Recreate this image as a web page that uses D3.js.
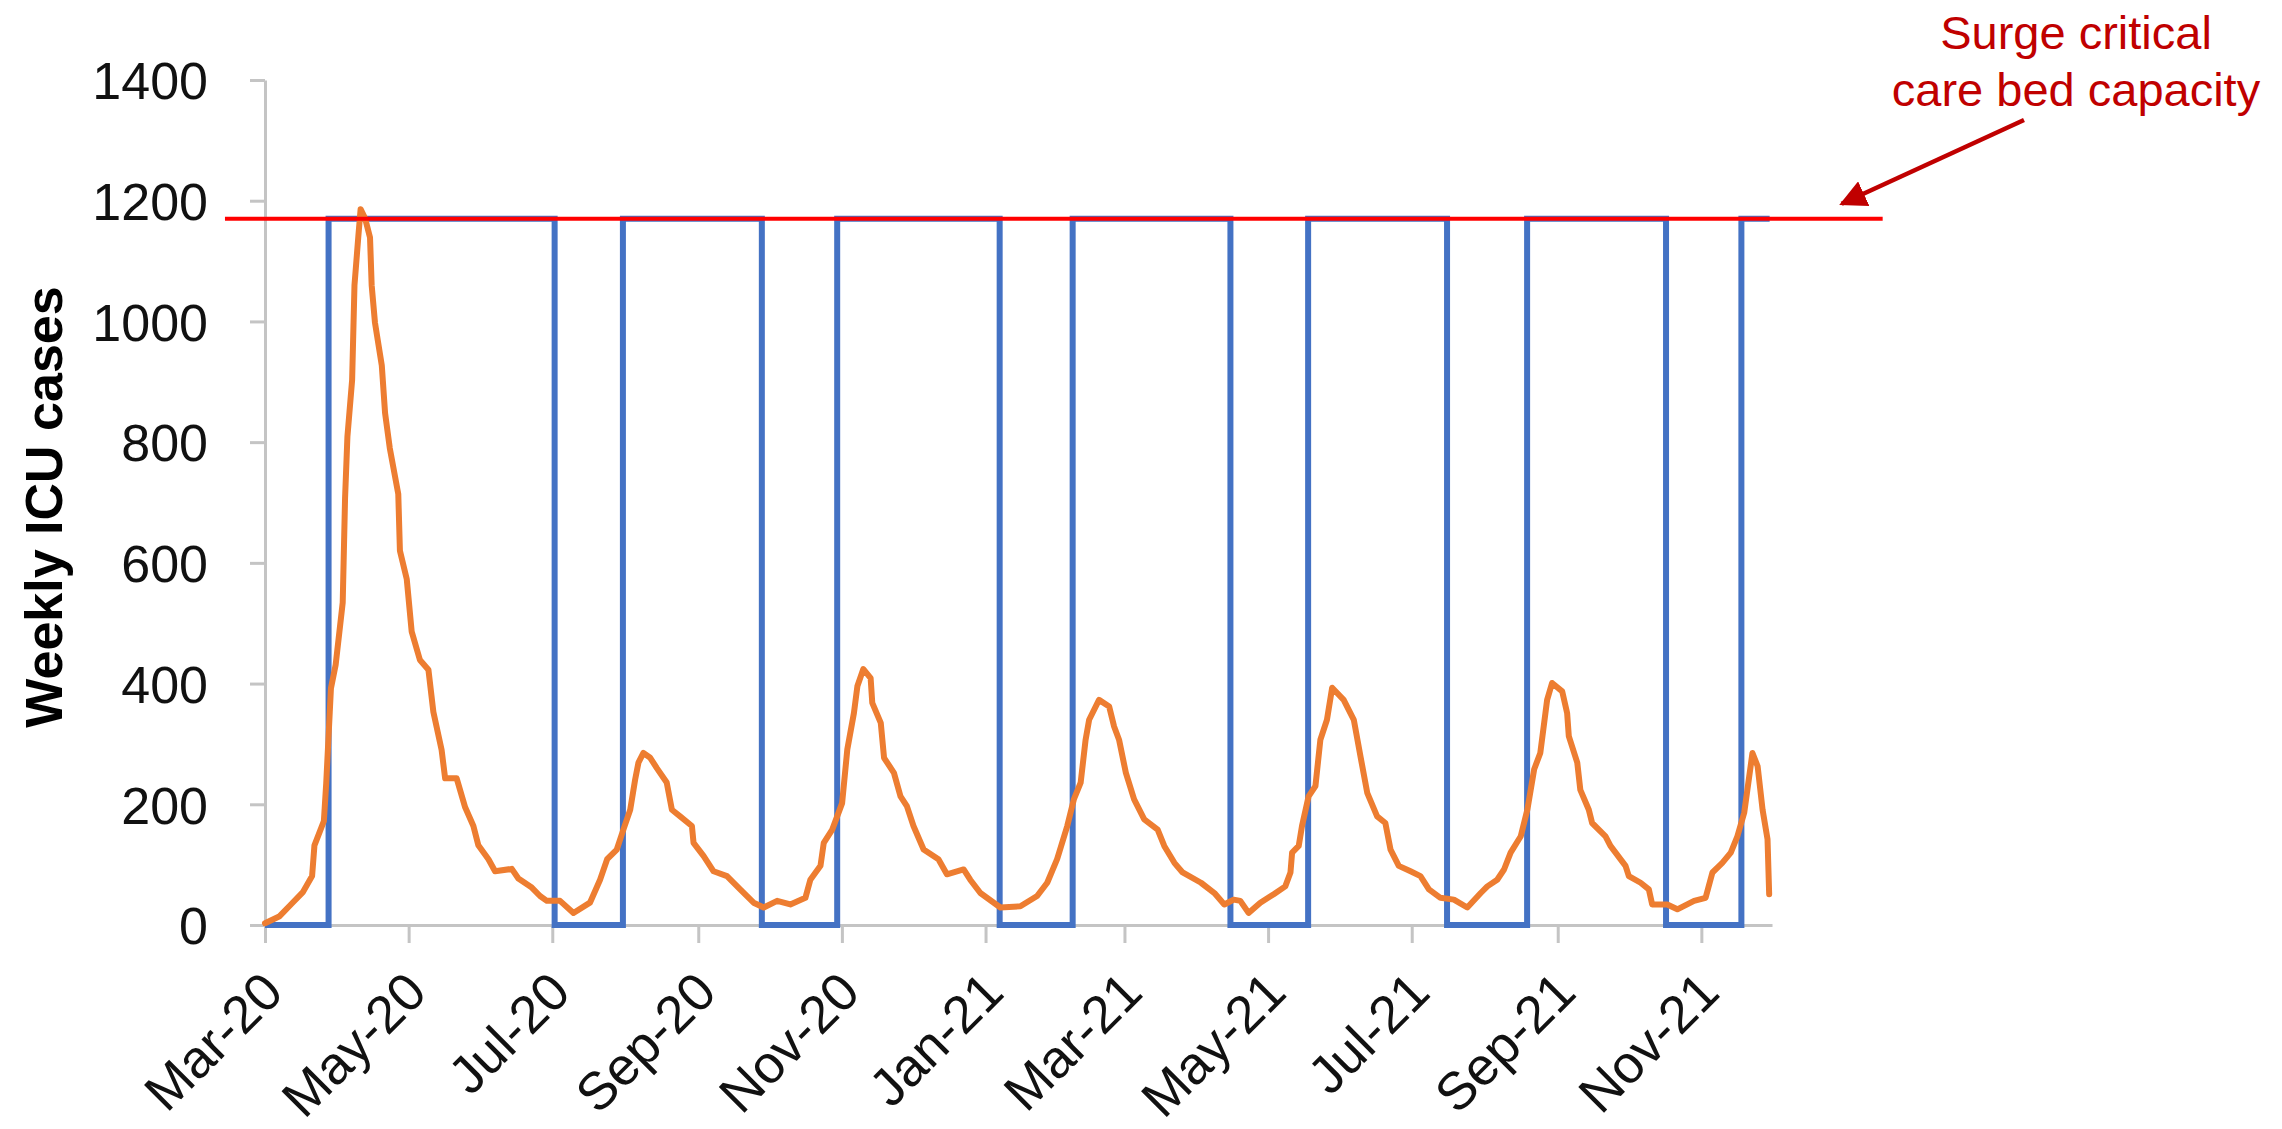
<!DOCTYPE html>
<html>
<head>
<meta charset="utf-8">
<script src="https://cdn.jsdelivr.net/npm/d3@7"></script>
<style>
  html, body { margin: 0; padding: 0; background: #ffffff; }
  svg { display: block; }
</style>
</head>
<body>
<svg id="chart" width="2282" height="1129"></svg>
<script>
// ---------------- DATA ----------------
const startDate = "2020-03-01";
const endDate = "2021-12-01";

// Tick labels (every second month)
const xTickDates = ["2020-03-01","2020-05-01","2020-07-01","2020-09-01","2020-11-01",
  "2021-01-01","2021-03-01","2021-05-01","2021-07-01","2021-09-01","2021-11-01"];
const yTickValues = [0, 200, 400, 600, 800, 1000, 1200, 1400];

// Surge critical care bed capacity
const capacityValue = 1170;
const capacitySpan = ["2020-02-13", "2022-01-17"];

// Blue step series (capacity on/off periods)
const stepDates = ["2020-03-01","2020-03-28","2020-07-02","2020-07-31","2020-09-28","2020-10-30",
  "2021-01-07","2021-02-07","2021-04-15","2021-05-18","2021-07-16","2021-08-19",
  "2021-10-17","2021-11-18","2021-11-30"];
const stepValues = [0,1170,0,1170,0,1170,0,1170,0,1170,0,1170,0,1170,1170];

// Orange series: weekly ICU cases (days since 1 Mar 2020, value)
const icuDay = [0,6,11,16,20,21,25,26,28,30,33,34,35,37,38,39.6,40.6,42.5,44.6,45.3,46.7,49.6,51,53,56.6,57.3,60.2,62.3,65.8,69.4,71.5,75,76.5,81.4,85,88.5,90.6,94.9,97.7,104.8,107.6,113.3,
  116.8,119.7,125.3,131,138,142.3,145.3,149.4,152.2,155.1,157.2,158.6,160.7,163.6,166.4,170.6,172.8,176.3,181.3,182,186.3,190.5,196.2,201.8,207.5,211.8,217.5,223.1,229.5,231.6,235.9,237.3,240.9,243,245.1,247.3,250.1,251.6,254.1,257.2,257.9,261.5,262.9,267.1,269.9,
  272.6,275.4,279.7,286,289.6,296.7,299.5,303.8,312.3,320.8,327.9,332.2,336.4,340.7,343.5,346.4,348.5,350,354.2,358.5,360.6,362.7,365.6,369.1,373.4,379.1,381.9,386.2,389.7,397.5,403.2,407.4,
  411.4,414.2,417.7,422.7,428.4,433.3,435.5,436.2,439,440.4,443.2,446.1,448.2,451,453.2,458.1,462.4,465.2,468.1,472.3,475.8,478,481.5,486.5,490.7,494.3,499.2,504.9,510.6,516.3,519.1,523.3,526.2,529,533.3,536.1,539,
  541.6,544.5,546.6,550.9,553,553.7,557.3,558.6,562.2,563.6,569.3,571.4,577.8,579.2,584.2,587.7,589.1,595.5,599.8,606.9,611.8,614.7,618.9,622.5,625.3,628.2,631.7,633.9,636,638.1,638.8];
const icuValue = [3,14,34,54,81,132,172,235,392,431,534,707,809,903,1060,1139,1186,1171,1139,1060,998,927,848,790,714,620,573,486,439,423,353,290,243,243,195,164,132,109,89,93,77,62,
  48,40,40,20,37,75,109,125,158,191,241,269,285,277,260,236,191,180,164,136,114,89,81,59,37,29,40,34,45,75,98,136,158,180,202,291,351,396,424,409,368,335,277,252,213,
  197,164,125,109,84,92,75,53,29,31,48,70,109,164,208,236,307,340,373,362,329,307,252,208,175,158,131,103,87,70,53,34,
  42,40,20,37,51,64,87,120,131,164,213,230,307,340,393,373,340,280,219,180,169,125,98,89,81,59,45,42,29,53,64,75,92,120,147,191,258,
  285,373,401,387,351,313,269,224,191,169,147,131,98,81,70,59,34,34,26,40,45,87,103,120,147,186,285,263,191,142,51];

const yTitle = "Weekly ICU cases";
const annotationLines = ["Surge critical", "care bed capacity"];

// ---------------- CHART ----------------
const svg = d3.select("#chart");
svg.append("rect").attr("width", 2282).attr("height", 1129).attr("fill", "#ffffff");

const parse = d3.timeParse("%Y-%m-%d");
const t0 = parse(startDate);

const x = d3.scaleTime().domain([t0, parse(endDate)]).range([265, 1772]);
const y = d3.scaleLinear().domain([0, 1400]).range([925, 80]);

const axisColor = "#C4C4C4";
const fontFamily = "'Liberation Sans', Arial, sans-serif";

// Y axis
const yAxis = svg.append("g")
  .attr("transform", "translate(265,0)")
  .call(d3.axisLeft(y).tickValues(yTickValues).tickSize(15).tickSizeOuter(0).tickPadding(42).tickFormat(d3.format("d")));
yAxis.select(".domain").attr("stroke", axisColor).attr("stroke-width", 3);
yAxis.selectAll(".tick line").attr("stroke", axisColor).attr("stroke-width", 3);
yAxis.selectAll(".tick text")
  .attr("font-family", fontFamily).attr("font-size", 52).attr("fill", "#111").attr("dy", "0.36em");

// X axis
const xAxis = svg.append("g")
  .attr("transform", "translate(0,925)")
  .call(d3.axisBottom(x).tickValues(xTickDates.map(parse)).tickSize(18).tickSizeOuter(0)
    .tickFormat(d3.timeFormat("%b-%y")));
xAxis.select(".domain").attr("stroke", axisColor).attr("stroke-width", 3);
xAxis.selectAll(".tick line").attr("stroke", axisColor).attr("stroke-width", 3);
xAxis.selectAll(".tick text")
  .attr("font-family", fontFamily).attr("font-size", 53).attr("fill", "#111")
  .attr("x", 0).attr("y", 0).attr("dy", 0)
  .attr("text-anchor", "end")
  .attr("transform", "translate(20,70) rotate(-45)");

// Blue step line
const stepData = stepDates.map((d, i) => ({ date: parse(d), value: stepValues[i] }));
svg.append("path")
  .datum(stepData)
  .attr("fill", "none")
  .attr("stroke", "#4472C4")
  .attr("stroke-width", 6)
  .attr("stroke-linejoin", "miter")
  .attr("d", d3.line().curve(d3.curveStepAfter).x(d => x(d.date)).y(d => y(d.value)));

// Orange line
const icuData = icuDay.map((d, i) => ({ date: new Date(t0.getTime() + d * 86400000), value: icuValue[i] }));
svg.append("path")
  .datum(icuData)
  .attr("fill", "none")
  .attr("stroke", "#ED7D31")
  .attr("stroke-width", 6)
  .attr("stroke-linejoin", "round")
  .attr("stroke-linecap", "round")
  .attr("d", d3.line().x(d => x(d.date)).y(d => y(d.value)));

// Capacity red line
svg.append("line")
  .attr("x1", x(parse(capacitySpan[0]))).attr("x2", x(parse(capacitySpan[1])))
  .attr("y1", y(capacityValue)).attr("y2", y(capacityValue))
  .attr("stroke", "#FF0000").attr("stroke-width", 4);

// Y title
svg.append("text")
  .attr("transform", "translate(62,507) rotate(-90)")
  .attr("text-anchor", "middle")
  .attr("font-family", fontFamily).attr("font-size", 52).attr("font-weight", "bold").attr("fill", "#000")
  .text(yTitle);

// Annotation
const ann = svg.append("text")
  .attr("text-anchor", "middle")
  .attr("font-family", fontFamily).attr("font-size", 47).attr("fill", "#C00000");
ann.selectAll("tspan").data(annotationLines).join("tspan")
  .attr("x", 2076).attr("y", (d, i) => 49 + i * 57).text(d => d);

// Arrow
const defs = svg.append("defs");
defs.append("marker")
  .attr("id", "arrowhead").attr("viewBox", "0 0 10 10")
  .attr("refX", 9).attr("refY", 5)
  .attr("markerWidth", 6).attr("markerHeight", 6)
  .attr("markerUnits", "strokeWidth")
  .attr("orient", "auto")
  .append("path").attr("d", "M0,0 L10,5 L0,10 Z").attr("fill", "#C00000");
const arrowTail = [2024, 120];
const tipX = x(parse(capacitySpan[1])) - 41;
const tipY = y(capacityValue) - 15;
svg.append("line")
  .attr("x1", arrowTail[0]).attr("y1", arrowTail[1])
  .attr("x2", tipX).attr("y2", tipY)
  .attr("stroke", "#C00000").attr("stroke-width", 4.5)
  .attr("marker-end", "url(#arrowhead)");
</script>
</body>
</html>
